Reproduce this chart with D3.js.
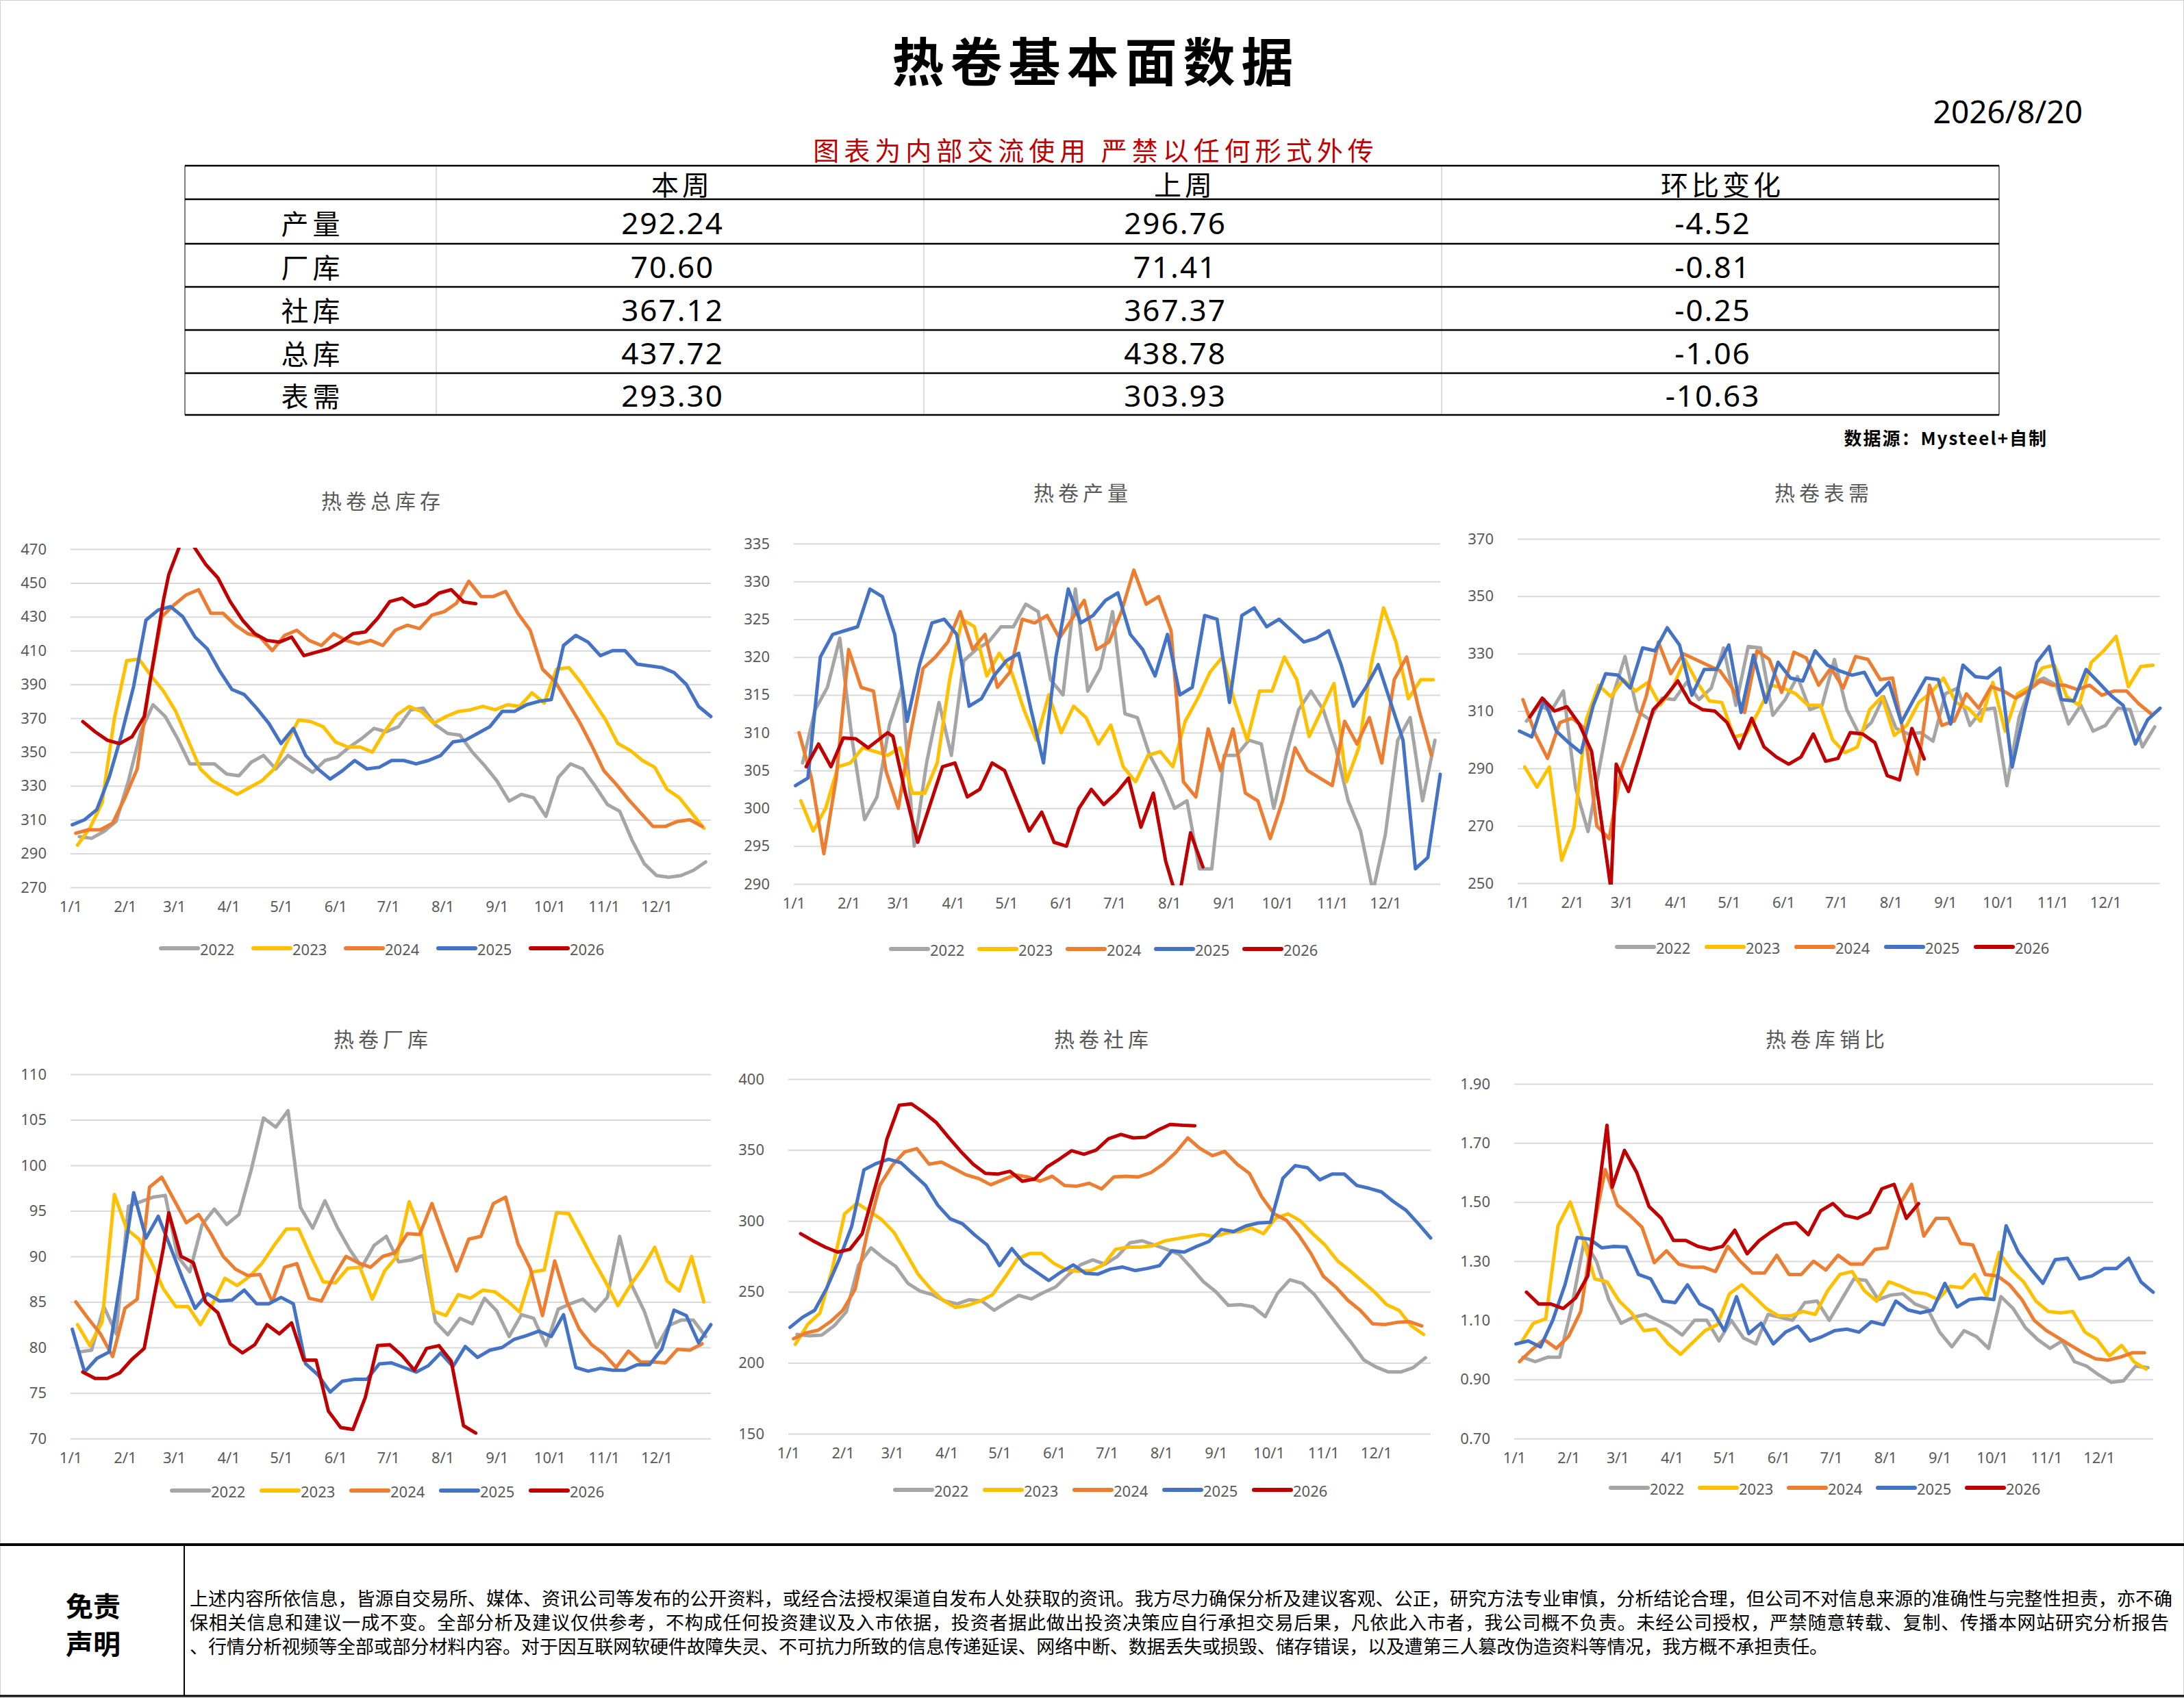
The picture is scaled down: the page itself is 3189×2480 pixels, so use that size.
<!DOCTYPE html>
<html>
<head>
<meta charset="utf-8">
<script src="https://cdn.jsdelivr.net/npm/d3@7"></script>
<style>
html, body { margin: 0; padding: 0; background: #fff; }
svg { display: block; }
</style>
</head>
<body>
<svg id="page" width="3189" height="2480"></svg>
<script>
// ---------- data ----------
var years = ['2022', '2023', '2024', '2025', '2026'];
var yearColors = ['#a5a5a5', '#ffc000', '#ed7d31', '#4472c4', '#c00000'];
var monthTicks = ['1/1', '2/1', '3/1', '4/1', '5/1', '6/1', '7/1', '8/1', '9/1', '10/1', '11/1', '12/1'];

// first weekly survey date of each year (weekly after that)
var weekStart = { '2022': '2022-01-06', '2023': '2023-01-05', '2024': '2024-01-04', '2025': '2025-01-02' };
// 2026 has the spring festival break, so dates are listed
var dates2026 = ['2026-01-08', '2026-01-15', '2026-01-22', '2026-01-29', '2026-02-05', '2026-02-12',
  '2026-02-23', '2026-02-26', '2026-03-05', '2026-03-12', '2026-03-19', '2026-03-26', '2026-04-02',
  '2026-04-09', '2026-04-16', '2026-04-23', '2026-04-30', '2026-05-07', '2026-05-14', '2026-05-21',
  '2026-05-28', '2026-06-04', '2026-06-11', '2026-06-18', '2026-06-25', '2026-07-02', '2026-07-09',
  '2026-07-16', '2026-07-23', '2026-07-30', '2026-08-06', '2026-08-13', '2026-08-20'];

// summary table
var tableCols = ['本周', '上周', '环比变化'];
var tableRows = ['产量', '厂库', '社库', '总库', '表需'];
var thisWeek = [292.24, 70.60, 367.12, 437.72, 293.30];
var lastWeek = [296.76, 71.41, 367.37, 438.78, 303.93];
var weekChange = [-4.52, -0.81, -0.25, -1.06, -10.63];

// 热卷总库存
var total2022 = [300,299,303,309,333,362,378,371,358,343, 343,343,337,336,344,348,340,348,343,338, 345,347,353,358,364,362,365,375,376,366, 361,360,350,342,333,321,325,323,312,335, 343,340,330,319,315,298,284,277,276,277, 280,285];
var total2023 = [295,305,320,370,404,405,395,386,374,357, 340,333,329,325,329,333,340,355,369,368, 365,356,353,353,350,362,372,377,374,367, 371,374,375,377,375,378,377,385,379,399, 400,391,380,369,355,351,345,341,328,323, 314,305];
var total2024 = [302,304,304,308,323,340,390,430,437,443, 446,432,432,425,420,418,410,419,422,416, 413,420,416,414,416,413,422,425,423,431, 433,438,451,442,442,445,432,422,399,392, 380,368,354,339,331,322,314,306,306,309, 310,306];
var total2025 = [307,310,316,335,360,389,428,434,436,430, 418,411,398,387,384,376,367,355,364,348, 340,334,339,345,340,341,345,345,343,345, 348,356,357,361,365,374,374,378,380,381, 413,419,415,407,410,410,402,401,400,397, 390,377,371];
var total2026 = [368,362,357,355,359,371,440,455,474,472, 461,453,439,428,420,416,415,418,407,409, 411,415,420,421,429,439,441,436,438,444, 446,438.78,437.72];
var totalTicks = [270, 290, 310, 330, 350, 370, 390, 410, 430, 450, 470];

// 热卷产量
var output2022 = [306,313,316,322.5,309,298.5,301.5,311,316,295, 306,314,307,319.5,321,322,324,324,327,326, 317,315,329,315.5,318.5,326,312.5,312,307,304, 300,301,292,292,307,307,309,308.5,300,307, 313,315.5,313,308,301,297,289,296.5,309,312, 301,309];
var output2023 = [301,297,300,305.5,306,308,307.5,307,308,302, 302,306,317,325,324,317.5,320.5,318,313,309, 315,310,313.5,312,308.5,311,305.5,303.5,307,307.5, 305.5,311.5,314.5,318,320,314,309,315.5,315.5,320, 317,309.5,313,316.5,303.5,308,319,326.5,322,314.5, 317,317];
var output2024 = [310,304,294,304,321,316,315.5,305,300,310, 318.5,320,322,326,321,323,316,318,325,324.5, 325.5,322.5,325,327.5,321,322,326,331.5,327,328, 323.5,303.5,301.5,310.5,305,310.5,302,301,296,301, 308,305,304,303,311.5,308.5,312,306,317,320, 313,307];
var output2025 = [303,304,320,323,323.5,324,329,328,323,311.5, 319,324.5,325,323,313.5,314.5,317.5,319.5,320.5,313, 306,320,329,324.5,325.5,327.5,328.5,323,321,317.5, 323,315,316,325.5,325,314,325.5,326.5,324,325, 323.5,322,322.5,323.5,319,313.5,316,319,314,309, 292,293.5,304.5];
var output2026 = [305.5,308.5,305.5,309.3,309.2,308,310,309.5,302,295.5, 300.5,305.5,306,301.5,302.5,306,305,301,297,299.5, 295.5,295,300,302.5,300.5,302,304,297.5,302,293, 287.5,296.76,292.24];
var outputTicks = [290, 295, 300, 305, 310, 315, 320, 325, 330, 335];

// 热卷表需
var demand2022 = [306.5,312,310,317,283,268,292,315,329,310, 307,314.5,314,320,314,318,332,312,332.5,332, 308.5,314,322,310.5,312,328,310.5,302,306,315, 304,302,302.5,299.5,316,318,305,310.5,311,284, 308,319.5,321.5,319,305.5,312,303,305,311,310.5, 297.5,304.5];
var demand2023 = [290.5,283.5,290.5,258,269.5,307,319,315,321,317, 320,312,318,328,320,313.5,313,301,302,310, 319,318,316,312,312,300,295.5,297.5,310.5,315, 301.5,305,313,316.5,321.5,313,311,306.5,320,303, 316,318.5,325,326,315,312,327,331,336,318.5, 325.5,326];
var demand2024 = [314,302,293.5,306,307.5,304,270,265.5,290,302, 315,334,323,330,328,326,324,318,309.5,331, 328,316.5,330.5,328.5,319,325,318,329,328,321, 321.5,300,288,319,305,306.5,316,311,318.5,317, 314.5,317,320.5,319,319,317.5,319,315.5,317,317, 312.5,309];
var demand2025 = [303,301,314,303,299,295.5,312,323,322.5,318, 332,331,339,333,315.5,324.5,324.5,333,309.5,329.5, 313,327,321.5,320.5,331,326,324,322.5,323.5,315.5, 320,306,314,321.5,321,305.5,326,322,321.5,325, 290.5,310,327,332.5,314,313.5,324.5,320,315.5,312, 298.5,307,311];
var demand2026 = [308,314.5,310,311.5,305.5,296,248,291.5,282,296, 310.5,315,320.5,313,310.5,310,306,297,307.5,297.5, 294,291.5,294,302,292.5,293.5,302.5,302,299,287.5, 286,303.93,293.30];
var demandTicks = [250, 270, 290, 310, 330, 350, 370];

// 热卷厂库
var plant2022 = [79.5,79.7,84.5,81.5,95.5,96,96.5,96.7,90,88.3, 93.5,95.2,93.5,94.6,99.5,105.2,104.2,106,95.4,93.1, 96.1,93.2,90.8,88.8,91.2,92.2,89.4,89.6,90.1,82.8, 81.4,83.2,82.6,85.4,84,81.2,83.6,83.2,80.2,84.2, 84.8,85.3,84,85.5,92.2,86.8,84,80,82.4,83, 83,81.2];
var plant2023 = [82.5,80.2,82.8,96.8,93,91.9,89.4,86.4,84.5,84.5, 82.5,84.8,87.6,86.8,87.8,89.2,91.2,93,93,90, 87.2,87.1,88.7,88.8,85.3,88.4,90,96,92.5,84, 83.5,85.8,85.4,86.3,86.1,85.1,83.9,88.3,88.5,94.8, 94.7,92.2,89.6,87.2,84.6,86.8,88.7,91,87.3,86.2, 90,85];
var plant2024 = [85,83.2,81.5,79,84.3,85.3,97.6,98.7,96.2,93.7, 94.6,92.5,90,88.6,87.9,88,85,88.8,89.2,85.4, 85.1,87.8,90,89.3,88.8,90,90.4,92.5,92.4,95.8, 92,88.4,91.9,92.2,95.8,96.5,91.4,88.7,83.5,89.5, 85,82,80.3,79.3,77.8,79.6,78.4,78.4,78.3,79.8, 79.7,80.4];
var plant2025 = [82,77.3,78.8,79.5,88,97,92,94.4,91,87.5, 84.3,85.9,85.1,85.2,86.3,84.8,84.8,85.5,84.8,78.2, 77,75.1,76.3,76.5,76.5,78.2,78.3,77.8,77.3,78, 79.4,77.9,80.1,78.9,79.7,80,80.9,81.3,81.8,81.2, 83.6,77.8,77.4,77.7,77.5,77.5,78.1,78.1,79.8,84.1, 83.5,80.5,82.5];
var plant2026 = [77.3,76.6,76.6,77.2,78.7,79.9,91,94.8,90,89.3, 85,83.8,80.4,79.4,80.3,82.5,81.5,82.7,78.6,78.6, 73,71.2,71,74.5,80.2,80.3,79.1,77.5,79.9,80.2, 78.5,71.41,70.60];
var plantTicks = [70, 75, 80, 85, 90, 95, 100, 105, 110];

// 热卷社库
var social2022 = [220,219,219.5,226,236,269,281,274,268,256, 250.5,248,243.5,241.5,244.5,243.5,237,242.5,247.5,245, 249.5,253.5,262,269,272.5,269.5,275,284.5,286,283, 280,276.5,267,257,250,240.5,241,239.5,232.5,249, 258.5,256,248,236.5,225,214,202,197,193.5,193.5, 196.5,203.5];
var social2023 = [213,227,235,266,305,312.5,307,301,292,277, 262,252,244,239,240.5,243.5,248,260,273,277, 277,270,265.5,264.5,265,269,280,281.5,281.5,282.5, 286,287.5,289,290.5,289,291.5,292.5,295,291,302, 305,300,291,283,272,265,257.5,250,241,237, 226,220];
var social2024 = [217,221,223,229,237,252,292,325,339,348.5, 351,340,341.5,337,332.5,330,325.5,329,332.5,331, 328,331.5,325,324.5,326.5,322.5,331,331.5,331,334, 340,348,358.5,351,346,349,340,333.5,317,305, 300.5,290,277,261,253.5,244,237,227.5,227,228.5, 229,226];
var social2025 = [225,232,237,253,273,296,336,340.5,343.5,341, 333,325,311,301.5,298,290,283,268.5,280.5,270, 264,258,264,269,263,262.5,266,267.5,265,266.5, 268.5,279,278,282,285.5,294,292.5,296.5,298.5,299, 330,339,337.5,329,333,333,325,323,320.5,313.5, 307.5,298,288];
var social2026 = [291,286,281.5,278,280,291,340,357.5,381.5,382.5, 376.5,369.5,359,349,340,333.5,333,335,328,329.5, 338,343.5,349.5,347,350,358,361,358.5,359,364, 368,367.37,367.12];
var socialTicks = [150, 200, 250, 300, 350, 400];

// 热卷库销比
var ratio2022 = [0.975,0.96,0.975,0.975,1.15,1.37,1.30,1.17,1.09,1.11, 1.12,1.10,1.08,1.05,1.10,1.10,1.03,1.10,1.04,1.02, 1.12,1.11,1.10,1.16,1.165,1.10,1.17,1.24,1.235,1.17, 1.185,1.19,1.155,1.14,1.06,1.01,1.065,1.045,1.005,1.18, 1.14,1.075,1.035,1.005,1.03,0.96,0.945,0.915,0.89,0.895, 0.945,0.94];
var ratio2023 = [1.025,1.09,1.105,1.42,1.50,1.38,1.24,1.23,1.165,1.125, 1.065,1.07,1.02,0.985,1.025,1.065,1.085,1.19,1.22,1.18, 1.14,1.115,1.115,1.13,1.12,1.20,1.255,1.265,1.20,1.165, 1.23,1.215,1.195,1.19,1.17,1.215,1.21,1.255,1.18,1.33, 1.27,1.23,1.165,1.13,1.125,1.13,1.06,1.035,0.98,1.015, 0.96,0.935];
var ratio2024 = [0.96,1.00,1.035,1.005,1.045,1.13,1.40,1.61,1.49,1.455, 1.415,1.295,1.335,1.29,1.28,1.28,1.265,1.35,1.30,1.26, 1.26,1.32,1.255,1.255,1.30,1.27,1.32,1.29,1.29,1.34, 1.345,1.49,1.56,1.385,1.445,1.445,1.36,1.355,1.255,1.25, 1.22,1.17,1.10,1.065,1.04,1.015,0.99,0.97,0.965,0.975, 0.99,0.99];
var ratio2025 = [1.02,1.03,1.01,1.10,1.22,1.38,1.375,1.345,1.35,1.348, 1.255,1.24,1.165,1.16,1.22,1.155,1.135,1.065,1.18,1.055, 1.09,1.02,1.06,1.08,1.03,1.045,1.065,1.07,1.06,1.095, 1.085,1.165,1.135,1.125,1.135,1.225,1.145,1.17,1.175,1.17, 1.42,1.33,1.275,1.225,1.305,1.31,1.24,1.25,1.275,1.275, 1.31,1.23,1.195];
var ratio2026 = [1.195,1.155,1.155,1.14,1.175,1.25,1.76,1.55,1.675,1.60, 1.485,1.445,1.37,1.37,1.35,1.34,1.35,1.405,1.325,1.37, 1.40,1.425,1.43,1.39,1.47,1.495,1.455,1.445,1.465,1.545, 1.56,1.445,1.495];
var ratioTicks = [0.70, 0.90, 1.10, 1.30, 1.50, 1.70, 1.90];

var disclaimer = [
  '上述内容所依信息，皆源自交易所、媒体、资讯公司等发布的公开资料，或经合法授权渠道自发布人处获取的资讯。我方尽力确保分析及建议客观、公正，研究方法专业审慎，分析结论合理，但公司不对信息来源的准确性与完整性担责，亦不确',
  '保相关信息和建议一成不变。全部分析及建议仅供参考，不构成任何投资建议及入市依据，投资者据此做出投资决策应自行承担交易后果，凡依此入市者，我公司概不负责。未经公司授权，严禁随意转载、复制、传播本网站研究分析报告',
  '、行情分析视频等全部或部分材料内容。对于因互联网软硬件故障失灵、不可抗力所致的信息传递延误、网络中断、数据丢失或损毁、储存错误，以及遭第三人篡改伪造资料等情况，我方概不承担责任。'
];

// ---------- layout ----------
var W = 3189, H = 2480;
var cjk = '"Noto Sans CJK SC", "Noto Sans", sans-serif';
var latin = '"Noto Sans", "Noto Sans CJK SC", sans-serif';

var charts = [
  { title: '热卷总库存', data: [total2022, total2023, total2024, total2025, total2026], ticks: totalTicks, fmt: d3.format('d'),
    plot: [103, 802, 1038, 1296], titleAt: [556, 730], legendAt: [235, 1385], legendStep: 135 },
  { title: '热卷产量', data: [output2022, output2023, output2024, output2025, output2026], ticks: outputTicks, fmt: d3.format('d'),
    plot: [1159, 794, 2103, 1291], titleAt: [1578, 718], legendAt: [1301, 1386], legendStep: 129 },
  { title: '热卷表需', data: [demand2022, demand2023, demand2024, demand2025, demand2026], ticks: demandTicks, fmt: d3.format('d'),
    plot: [2216, 787, 3154, 1290], titleAt: [2660, 718], legendAt: [2361, 1383], legendStep: 131 },
  { title: '热卷厂库', data: [plant2022, plant2023, plant2024, plant2025, plant2026], ticks: plantTicks, fmt: d3.format('d'),
    plot: [103, 1569, 1038, 2101], titleAt: [556, 1516], legendAt: [251, 2177], legendStep: 131 },
  { title: '热卷社库', data: [social2022, social2023, social2024, social2025, social2026], ticks: socialTicks, fmt: d3.format('d'),
    plot: [1151, 1576, 2089, 2094], titleAt: [1608, 1516], legendAt: [1307, 2176], legendStep: 131 },
  { title: '热卷库销比', data: [ratio2022, ratio2023, ratio2024, ratio2025, ratio2026], ticks: ratioTicks, fmt: d3.format('.2f'),
    plot: [2211, 1583, 3144, 2101], titleAt: [2665, 1516], legendAt: [2352, 2173], legendStep: 130 }
];

var svg = d3.select('#page');
svg.append('rect').attr('width', W).attr('height', H).attr('fill', '#fff')
  .attr('stroke', '#d0d0d0').attr('stroke-width', 2);

// ---------- header ----------
svg.append('text').attr('x', 1600).attr('y', 86)
  .attr('text-anchor', 'middle').attr('dominant-baseline', 'central')
  .style('font-family', cjk).style('font-weight', 700).style('font-size', '76px')
  .style('letter-spacing', '9px').attr('fill', '#000').text('热卷基本面数据');

svg.append('text').attr('x', 3041).attr('y', 162)
  .attr('text-anchor', 'end').attr('dominant-baseline', 'central')
  .style('font-family', latin).style('font-size', '46px').attr('fill', '#000').text('2026/8/20');

svg.append('text').attr('x', 1600).attr('y', 217)
  .attr('text-anchor', 'middle').attr('dominant-baseline', 'central')
  .style('font-family', cjk).style('font-size', '38px').style('letter-spacing', '7px')
  .attr('fill', '#c00000').text('图表为内部交流使用 严禁以任何形式外传');

// ---------- table ----------
var colX = [270, 637, 1349, 2105, 2919];
var rowY = [242, 291, 356, 419, 482, 545, 606];
var table = svg.append('g');

colX.forEach(function (cx, i) {
  var outer = (i === 0 || i === colX.length - 1);
  table.append('line').attr('x1', cx).attr('x2', cx).attr('y1', rowY[0]).attr('y2', rowY[rowY.length - 1])
    .attr('stroke', outer ? '#808080' : '#d0d0d0').attr('stroke-width', outer ? 2 : 1.5);
});
rowY.forEach(function (ry) {
  table.append('line').attr('x1', colX[0]).attr('x2', colX[colX.length - 1]).attr('y1', ry).attr('y2', ry)
    .attr('stroke', '#000').attr('stroke-width', 2.5);
});

tableCols.forEach(function (t, i) {
  table.append('text').attr('x', (colX[i + 1] + colX[i + 2]) / 2 + 3).attr('y', (rowY[0] + rowY[1]) / 2 + 1)
    .attr('text-anchor', 'middle').attr('dominant-baseline', 'central')
    .style('font-family', cjk).style('font-size', '40px').style('letter-spacing', '5px')
    .attr('fill', '#000').text(t);
});

var valueCols = [thisWeek, lastWeek, weekChange];
tableRows.forEach(function (r, ri) {
  var cy = (rowY[ri + 1] + rowY[ri + 2]) / 2 + 1;
  table.append('text').attr('x', (colX[0] + colX[1]) / 2 + 3).attr('y', cy)
    .attr('text-anchor', 'middle').attr('dominant-baseline', 'central')
    .style('font-family', cjk).style('font-size', '40px').style('letter-spacing', '6px')
    .attr('fill', '#000').text(r);
  valueCols.forEach(function (vals, ci) {
    table.append('text').attr('x', (colX[ci + 1] + colX[ci + 2]) / 2 - 11).attr('y', cy)
      .attr('text-anchor', 'middle').attr('dominant-baseline', 'central')
      .style('font-family', latin).style('font-size', '44px').style('letter-spacing', '2px')
      .attr('fill', '#000').text(vals[ri].toFixed(2));
  });
});

svg.append('text').attr('x', 2990).attr('y', 638)
  .attr('text-anchor', 'end').attr('dominant-baseline', 'central')
  .style('font-family', cjk).style('font-weight', 700).style('font-size', '26px').style('letter-spacing', '2px')
  .attr('fill', '#000').text('数据源：Mysteel+自制');

// ---------- charts ----------
var parseDay = d3.timeParse('%Y-%m-%d');
var baseDay = new Date(2026, 0, 1);
var endDay = new Date(2027, 0, 1);
var monthStarts = d3.timeMonth.range(baseDay, new Date(2026, 11, 2));

function seriesDates(year, n) {
  if (year === '2026') return dates2026.map(parseDay);
  var first = parseDay(weekStart[year]);
  return d3.range(n).map(function (i) { return d3.timeDay.offset(first, 7 * i); });
}
// put every year on the same Jan 1 - Dec 31 axis
function toAxisDay(year, date) {
  var days = d3.timeDay.count(new Date(+year, 0, 1), date);
  return d3.timeDay.offset(baseDay, days);
}

charts.forEach(function (c, ci) {
  var g = svg.append('g');
  var p = c.plot;
  var x = d3.scaleTime().domain([baseDay, endDay]).range([p[0], p[2]]);
  var y = d3.scaleLinear().domain([c.ticks[0], c.ticks[c.ticks.length - 1]]).range([p[3], p[1]]);

  // title
  g.append('text').attr('x', c.titleAt[0] + 3).attr('y', c.titleAt[1])
    .attr('text-anchor', 'middle').attr('dominant-baseline', 'central')
    .style('font-family', cjk).style('font-size', '30px').style('letter-spacing', '6px')
    .attr('fill', '#595959').text(c.title);

  // gridlines + y labels
  g.append('g').attr('transform', 'translate(' + p[0] + ',0)')
    .call(d3.axisLeft(y).tickValues(c.ticks).tickSize(-(p[2] - p[0])).tickPadding(35).tickFormat(c.fmt))
    .call(function (s) { s.select('.domain').remove(); })
    .call(function (s) { s.selectAll('line').attr('stroke', '#d9d9d9').attr('stroke-width', 2); })
    .call(function (s) {
      s.selectAll('text').attr('fill', '#595959')
        .style('font-family', latin).style('font-size', '22px');
    });

  // x labels
  g.append('g').attr('transform', 'translate(0,' + p[3] + ')')
    .call(d3.axisBottom(x).tickValues(monthStarts).tickSize(0).tickPadding(20)
      .tickFormat(function (d, i) { return monthTicks[i]; }))
    .call(function (s) { s.select('.domain').remove(); })
    .call(function (s) {
      s.selectAll('text').attr('fill', '#595959')
        .style('font-family', latin).style('font-size', '22px');
    });

  // clip lines to the value range like the original
  var clipId = 'clip' + ci;
  svg.append('clipPath').attr('id', clipId).append('rect')
    .attr('x', p[0] - 20).attr('y', p[1] - 2).attr('width', p[2] - p[0] + 40).attr('height', p[3] - p[1] + 4);

  var lineGroup = g.append('g').attr('clip-path', 'url(#' + clipId + ')');
  c.data.forEach(function (vals, si) {
    var yr = years[si];
    var ds = seriesDates(yr, vals.length);
    var pts = vals.map(function (v, i) { return { d: toAxisDay(yr, ds[i]), v: v }; });
    var line = d3.line().x(function (d) { return x(d.d); }).y(function (d) { return y(d.v); });
    lineGroup.append('path').datum(pts).attr('d', line)
      .attr('fill', 'none').attr('stroke', yearColors[si]).attr('stroke-width', 5)
      .attr('stroke-linejoin', 'round').attr('stroke-linecap', 'round');
  });

  // legend
  years.forEach(function (yr, si) {
    var lx = c.legendAt[0] + si * c.legendStep;
    var ly = c.legendAt[1];
    g.append('line').attr('x1', lx).attr('x2', lx + 54).attr('y1', ly).attr('y2', ly)
      .attr('stroke', yearColors[si]).attr('stroke-width', 6).attr('stroke-linecap', 'round');
    g.append('text').attr('x', lx + 57).attr('y', ly + 1).attr('dominant-baseline', 'central')
      .style('font-family', latin).style('font-size', '22px').attr('fill', '#595959').text(yr);
  });
});

// ---------- disclaimer ----------
var foot = svg.append('g');
foot.append('line').attr('x1', 0).attr('x2', W).attr('y1', 2256).attr('y2', 2256)
  .attr('stroke', '#000').attr('stroke-width', 4);
foot.append('line').attr('x1', 0).attr('x2', W).attr('y1', 2477).attr('y2', 2477)
  .attr('stroke', '#000').attr('stroke-width', 3);
foot.append('line').attr('x1', 269).attr('x2', 269).attr('y1', 2256).attr('y2', 2477)
  .attr('stroke', '#000').attr('stroke-width', 2);

[['免责', 2344], ['声明', 2399]].forEach(function (t) {
  foot.append('text').attr('x', 136).attr('y', t[1])
    .attr('text-anchor', 'middle').attr('dominant-baseline', 'central')
    .style('font-family', cjk).style('font-weight', 700).style('font-size', '40px')
    .attr('fill', '#000').text(t[0]);
});

// widths fitted to the reference lines
var disclaimerWidth = [2895, 2890, 2392];
disclaimer.forEach(function (line, i) {
  foot.append('text').attr('x', 277).attr('y', 2333 + i * 35)
    .attr('dominant-baseline', 'central')
    .attr('textLength', disclaimerWidth[i]).attr('lengthAdjust', 'spacing')
    .style('font-family', cjk).style('font-size', '27px')
    .attr('fill', '#000').text(line);
});
</script>
</body>
</html>
